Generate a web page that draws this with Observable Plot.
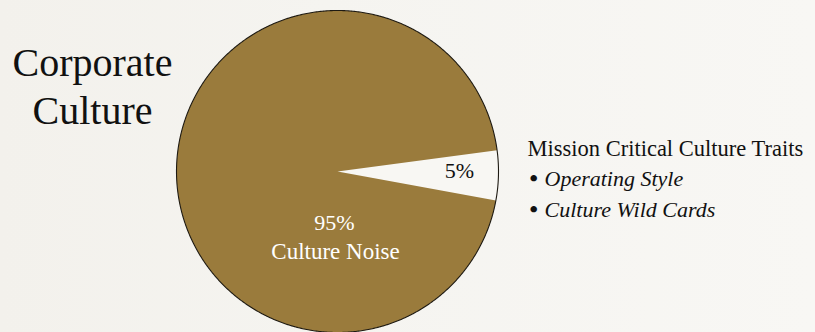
<!DOCTYPE html>
<html>
<head>
<meta charset="utf-8">
<script src="https://cdn.jsdelivr.net/npm/d3@7"></script>
<script src="https://cdn.jsdelivr.net/npm/@observablehq/plot@0.6"></script>
<style>
  html, body { margin: 0; padding: 0; }
  body { background: linear-gradient(to right, #f3f1ec 0%, #f5f4f0 40%, #f8f7f4 100%); width: 815px; height: 332px; overflow: hidden; }
  #chart svg { display: block; }
  #chart svg text { font-family: 'Liberation Serif', 'Times New Roman', serif; }
</style>
</head>
<body>
<div id="chart"></div>
<script>
// ---- data ----
const categories = ["Mission Critical Culture Traits", "Culture Noise"];
const values = [5, 95];
const valueLabels = ["5%", "95%"];
const sliceNames = ["", "Culture Noise"];
const sliceColors = ["#f8f7f3", "#9a7b3c"];
const titleLines = ["Corporate", "Culture"];
const noteHeading = "Mission Critical Culture Traits";
const noteItems = ["Operating Style", "Culture Wild Cards"];

// ---- geometry from data via d3.pie ----
const deg = Math.PI / 180;
const pie = d3.pie().sort(null).startAngle(82.4 * deg).endAngle(82.4 * deg + 2 * Math.PI);
const arcs = pie(values);
const slicePoints = [];
arcs.forEach((a, i) => {
  const n = Math.max(4, Math.ceil((a.endAngle - a.startAngle) / (0.5 * deg)));
  slicePoints.push({cat: categories[i], x: 0, y: 0});
  for (let k = 0; k <= n; k++) {
    const t = a.startAngle + (a.endAngle - a.startAngle) * k / n;
    slicePoints.push({cat: categories[i], x: Math.sin(t), y: Math.cos(t)});
  }
  slicePoints.push({cat: categories[i], x: 0, y: 0});
});
const outline = d3.range(0, 721).map(k => ({x: Math.sin(k * 0.5 * deg), y: Math.cos(k * 0.5 * deg)}));

// ---- layout ----
const W = 815, H = 332, cx = 337, cy = 171, R = 161;
const serif = "'Liberation Serif', 'Times New Roman', serif";
const T = {fontFamily: serif, lineAnchor: "bottom"};

const chart = Plot.plot({
  width: W,
  height: H,
  margin: 0,
  x: {domain: [-cx / R, (W - cx) / R], range: [0, W], axis: null},
  y: {domain: [-(H - cy) / R, cy / R], range: [H, 0], axis: null},
  color: {domain: categories, range: sliceColors},
  style: {background: "transparent", fontFamily: serif},
  marks: [
    Plot.line(slicePoints, {x: "x", y: "y", z: "cat", fill: "cat", stroke: "none", curve: "linear"}),
    Plot.line(outline, {x: "x", y: "y", stroke: "#1e1a12", strokeWidth: 1.1}),
    // slice labels
    Plot.text([valueLabels[0]], {...T, x: 0, y: 0, dx: 122, dy: 6, text: d => d, fontSize: 22, fill: "#111", textAnchor: "middle"}),
    Plot.text([valueLabels[1]], {...T, x: 0, y: 0, dx: -3, dy: 58, text: d => d, fontSize: 22, fill: "#ffffff", textAnchor: "middle"}),
    Plot.text([sliceNames[1]], {...T, x: 0, y: 0, dx: -2, dy: 87, text: d => d, fontSize: 23, fill: "#ffffff", textAnchor: "middle"}),
    // title
    Plot.text([titleLines.join("\n")], {...T, frameAnchor: "top-left", dx: 92, dy: 123, text: d => d, fontSize: 40, lineHeight: 1.2, fill: "#111", textAnchor: "middle"}),
    // note
    Plot.text([noteHeading], {...T, frameAnchor: "top-left", dx: 527, dy: 155, text: d => d, fontSize: 22.5, fill: "#111", textAnchor: "start"}),
    Plot.text([noteItems[0]], {...T, frameAnchor: "top-left", dx: 529, dy: 185, text: d => "\u2022", fontSize: 24, fontWeight: "bold", fill: "#111", textAnchor: "start"}),
    Plot.text([noteItems[1]], {...T, frameAnchor: "top-left", dx: 529, dy: 216, text: d => "\u2022", fontSize: 24, fontWeight: "bold", fill: "#111", textAnchor: "start"}),
    Plot.text([noteItems[0]], {...T, frameAnchor: "top-left", dx: 544, dy: 185, text: d => d, fontSize: 22, fontStyle: "italic", fill: "#111", textAnchor: "start"}),
    Plot.text([noteItems[1]], {...T, frameAnchor: "top-left", dx: 544, dy: 216, text: d => d, fontSize: 22, fontStyle: "italic", fill: "#111", textAnchor: "start"})
  ]
});
document.getElementById("chart").appendChild(chart);
</script>
</body>
</html>
